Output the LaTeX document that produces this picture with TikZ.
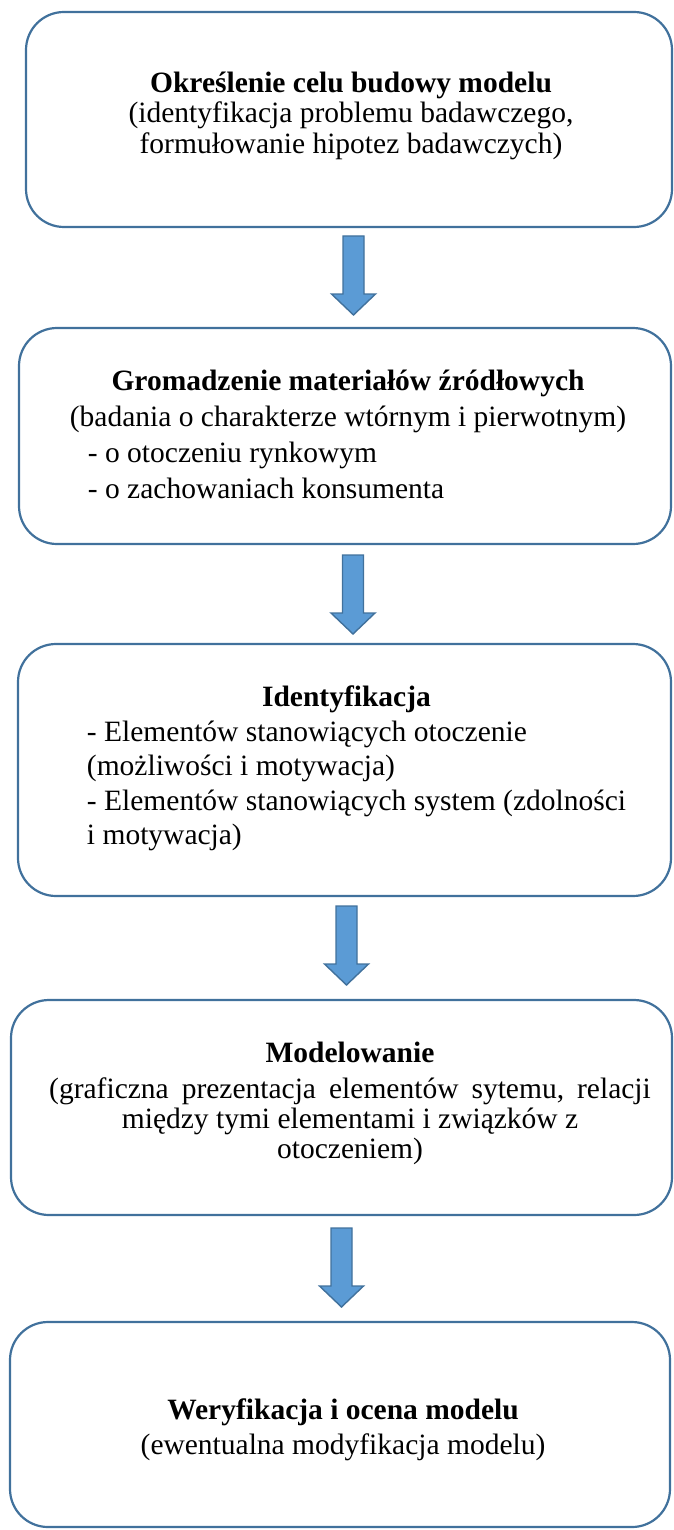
\documentclass[tikz,border=0pt]{standalone}
\usepackage{fontspec}
\setmainfont{Liberation Serif}
\definecolor{boxblue}{HTML}{41719C}
\definecolor{arrowfill}{HTML}{5B9BD5}
\tikzset{
  stagebox/.style={rectangle, draw=boxblue, line width=2.2pt, rounded corners=38pt, inner sep=0pt},
  stagetext/.style={inner sep=0pt, text=black},
  blockarrow/.style={fill=arrowfill, draw=boxblue, line width=1.4pt, line join=miter},
  flowarrow/.pic={
    \path[blockarrow] (-10.5,0) -- (10.5,0) -- (10.5,58) -- (22,58) -- (0,79)
      -- (-22,58) -- (-10.5,58) -- cycle;
  }
}
\begin{document}
\begin{tikzpicture}[x=1pt, y=-1pt]
\useasboundingbox (0,0) rectangle (674,1530);

% stage frames
\node[stagebox, minimum width=646pt, minimum height=215pt] (b1) at (349,119.5) {};
\node[stagebox, minimum width=652pt, minimum height=216pt] (b2) at (345,436) {};
\node[stagebox, minimum width=653pt, minimum height=252pt] (b3) at (344.5,770) {};
\node[stagebox, minimum width=661pt, minimum height=215pt] (b4) at (341.5,1107.5) {};
\node[stagebox, minimum width=660pt, minimum height=205pt] (b5) at (340,1424.5) {};

% stage descriptions
\node[stagetext, align=center, font=\fontsize{29.5}{30.5}\selectfont] (t1) at (b1.center) [xshift=2pt, yshift=4pt]
  {\textbf{Określenie celu budowy modelu}\\(identyfikacja problemu badawczego,\\formułowanie hipotez badawczych)};

\node[stagetext, font=\fontsize{29.5}{36}\selectfont] (t2) at (b2.center) [xshift=3pt, yshift=-1pt]
  {\begin{tabular}{@{}l@{}}
    \multicolumn{1}{c}{\textbf{Gromadzenie materiałów źródłowych}}\\
    \multicolumn{1}{c}{(badania o charakterze wtórnym i pierwotnym)}\\
    \hspace*{24pt}- o otoczeniu rynkowym\\
    \hspace*{24pt}- o zachowaniach konsumenta
  \end{tabular}};

\node[stagetext, font=\fontsize{29.5}{34.5}\selectfont] (t3) at (356.5,769)
  {\begin{tabular}{@{}l@{}}
    \multicolumn{1}{c}{\textbf{Identyfikacja}\hspace*{20pt}}\\
    - Elementów stanowiących otoczenie\\
    (możliwości i motywacja)\\
    - Elementów stanowiących system (zdolności\\
    i motywacja)
  \end{tabular}};

\node[stagetext, align=center, font=\fontsize{29.5}{30}\selectfont] (t4) at (350,1103)
  {\textbf{Modelowanie}\\[6pt]{\spaceskip=13pt plus 1pt\relax(graficzna prezentacja elementów sytemu, relacji}\\między tymi elementami i związków z\\otoczeniem)};

\node[stagetext, align=center, font=\fontsize{29.5}{35}\selectfont] (t5) at (343,1430)
  {\textbf{Weryfikacja i ocena modelu}\\(ewentualna modyfikacja modelu)};

% block arrows between stages
\pic (a1) at (353.5,236) {flowarrow};
\pic (a2) at (353,555) {flowarrow};
\pic (a3) at (346.5,906) {flowarrow};
\pic (a4) at (341.5,1228) {flowarrow};
\end{tikzpicture}
\end{document}
